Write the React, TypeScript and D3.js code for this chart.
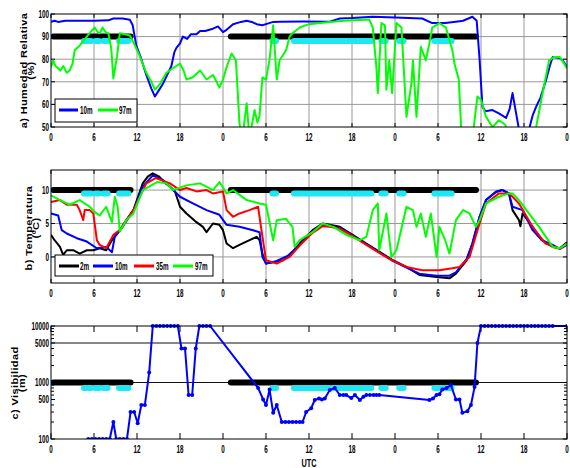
import React from "react";
import * as d3 from "d3";

// hour since start (0..72 UTC, 3 days) -> value
const rh10m: [number, number][] = [
  [0, 96.5], [0.5, 97], [1, 96.5], [2, 97], [4, 97], [6, 97], [8, 97.2], [8.7, 98], [10, 98], [11, 97.5],
  [11.4, 95], [11.9, 86], [12.5, 81], [13.3, 73], [14, 67], [14.5, 63.5], [15, 66], [15.6, 69], [16.2, 73],
  [16.8, 77], [17.2, 83], [17.5, 85], [18, 87], [18.4, 90], [19, 89], [19.5, 91], [20.3, 91], [20.8, 92.5],
  [21.5, 92.5], [22.6, 93.5], [23.3, 94.5], [24, 92], [24.5, 93], [25.4, 95.5], [26.5, 96.5], [27.3, 97],
  [28, 96.5], [28.7, 95.5], [29.5, 95], [30, 95.5], [31, 96.5], [32, 96.6], [35, 96.7], [38.9, 96.6],
  [40.3, 98], [42, 98.2], [44.9, 98.8], [48, 98.5], [51.8, 98], [53.2, 96], [55, 96], [56.5, 96.6], [57.5, 97],
  [58.8, 98.8], [59.4, 97], [59.8, 80], [60.2, 59], [60.6, 57], [61.6, 57.5], [62.5, 56], [63.5, 54], [64, 58],
  [64.4, 65], [64.9, 56], [65.3, 49], [66.7, 49], [67.2, 55], [67.7, 59], [68.3, 63], [69.1, 71], [69.6, 77],
  [70, 81], [71, 80.5], [71.5, 79], [72, 76.5],
];

const rh97m: [number, number][] = [
  [0, 76.5], [0.3, 79.5], [0.6, 77], [1, 76], [1.3, 75], [1.7, 77], [2.2, 74], [2.6, 75], [3, 78], [3.3, 84],
  [4, 86], [5, 90], [5.5, 92], [6.1, 94], [6.5, 92], [6.8, 91.5], [7.2, 94], [7.6, 92], [8, 91.5], [8.4, 85],
  [8.7, 71.5], [9.2, 81], [9.6, 91.5], [10.3, 91], [11, 90.5], [11.5, 87.5], [12.3, 82], [13.3, 74], [14, 70],
  [14.5, 66.5], [15.2, 69], [16.1, 74], [17, 76], [18, 78], [18.5, 75], [18.9, 71], [19.8, 72], [20.8, 75],
  [21.7, 71], [22.6, 73], [23.1, 70], [23.5, 67.5], [24, 71], [24.5, 76.5], [25.2, 82.5], [25.8, 79.5],
  [26.3, 51.5], [26.7, 45], [27.3, 60.5], [27.7, 45], [28.4, 57.5], [28.8, 52], [29.1, 55], [29.5, 72],
  [30, 71], [30.5, 80], [31, 95], [31.5, 71], [31.9, 79.5], [32.4, 82], [32.8, 84], [33.3, 90], [33.7, 91.5],
  [34.7, 94], [36, 95.5], [38.9, 96.5], [41, 97], [44.4, 97.6], [44.9, 94], [45.4, 76.5], [45.6, 65],
  [46.1, 96], [46.6, 95], [46.8, 66.5], [47.2, 79.5], [47.6, 65], [48.2, 96], [48.9, 94], [49.6, 54.5],
  [50.3, 69.5], [50.5, 79.5], [51, 54.5], [51.6, 85.5], [52.3, 79.5], [52.8, 87], [53.2, 94], [54.2, 96],
  [55.1, 94], [56, 84], [56.3, 78], [56.9, 71], [57.3, 45], [58.8, 45], [59.5, 63.5], [60, 62], [60.7, 54.5],
  [61.6, 50], [62.5, 53], [63.4, 51], [63.8, 45], [67.2, 45], [67.7, 50], [68.5, 63.5], [69.5, 79.5],
  [70.2, 81], [71, 81], [72, 76],
];

const t2m: [number, number][] = [
  [0, 3.3], [0.5, 2.5], [1.25, 1.5], [1.7, 0.3], [2.2, 1], [3.1, 1], [4, 0.5], [5, 1], [5.9, 1], [6.8, 1.3],
  [7.7, 1], [8.5, 2.5], [9.6, 4], [10.5, 5.5], [11.5, 7], [12.8, 11], [13.5, 12], [14.2, 12.5], [15.1, 12],
  [16, 11], [16.6, 10.5], [17.3, 9.8], [18, 7.5], [18.9, 6.5], [20.3, 5.2], [21.2, 4.5], [21.7, 3.7],
  [22.6, 5], [23.5, 4.8], [24, 4], [24.5, 2], [25.4, 1.3], [26.3, 1.8], [27.7, 2.5], [28.7, 3], [29.1, 2.5],
  [29.5, 0.5], [30, -1], [31, -0.8], [32.4, -0.5], [33.7, 0.8], [34.7, 2], [36.5, 4], [37.9, 5], [38.9, 4.8],
  [40.3, 4.5], [42.1, 3.3], [44, 2], [45.8, 0.8], [47.7, -0.5], [49.6, -1.5], [51.4, -2.7], [53.8, -3],
  [55.6, -3.2], [56.5, -2.5], [58, -0.5], [58.8, 2], [59.8, 6], [60.7, 8.5], [62.1, 9.7], [63, 10],
  [63.9, 9.5], [64.4, 7], [65.3, 5.5], [65.5, 4.6], [65.8, 6.5], [67.2, 4.5], [68.5, 2.5], [70, 1.5],
  [71, 1.3], [72, 2.2],
];

const t10m: [number, number][] = [
  [0, 6.5], [1, 6.2], [1.5, 4], [2.2, 3.5], [3.6, 2.8], [5, 2.3], [6.4, 1.3], [7.7, 1.5], [8.5, 0.7],
  [8.9, 3], [10, 4.5], [11.5, 7], [12.8, 10.5], [14.2, 12.2], [15.6, 11.5], [16.6, 10.5], [18, 9],
  [19.8, 8], [21.7, 7], [23.5, 6.3], [24.5, 4.8], [26.3, 4.5], [28.2, 4], [29.1, 3.7], [29.5, 0], [30, -1],
  [31.5, -0.6], [33.3, 0.3], [34.7, 1.8], [36.5, 3.8], [37.9, 4.8], [38.9, 4.6], [40.3, 4.3], [42.1, 3.2],
  [44, 1.9], [45.8, 0.7], [47.7, -0.6], [49.6, -1.6], [51.4, -2.5], [53.8, -2.8], [55.6, -2.8],
  [56.5, -2.3], [58, -0.3], [58.8, 2], [59.8, 6], [60.7, 8.5], [62.1, 9.8], [63, 10], [63.9, 9.5],
  [64.4, 7.5], [65.8, 7], [67.2, 4], [68.5, 2.5], [70, 1.8], [71, 1.2], [72, 1.8],
];

const t35m: [number, number][] = [
  [0, 8.2], [1.25, 8.5], [2.2, 7.8], [3.6, 7.8], [4, 7], [4.5, 5.5], [4.7, 7], [5.4, 7], [5.9, 6.5],
  [6.4, 2.5], [6.8, 1.8], [7.7, 1.3], [8.7, 3.3], [9.6, 4], [11.5, 7], [13.3, 11], [14.6, 11.8], [16.6, 11],
  [18, 10], [18.9, 10.3], [20.3, 9.8], [21.7, 10], [22.6, 9.5], [24, 9.8], [24.5, 7], [25.4, 6], [26.3, 6.5],
  [27.7, 7], [28.9, 7.5], [29.3, 4.5], [30, -0.5], [31.5, -1], [33.3, 0], [34.7, 1.7], [36.5, 3.6],
  [37.9, 4.6], [38.9, 4.5], [40.3, 4.2], [42.1, 3.1], [44, 1.8], [45.8, 0.6], [47.7, -0.6], [49.6, -1.5],
  [51.8, -2], [54.2, -2], [56, -1.7], [57, -1.5], [58.4, 0], [59.8, 5], [60.7, 8], [62.5, 9.5], [63.9, 9.5],
  [64.4, 9], [65.3, 8], [67.2, 4.5], [69, 2], [71, 1.2], [72, 2],
];

const t97m: [number, number][] = [
  [0, 9.2], [1.25, 8.5], [2.6, 7.8], [4, 8.5], [5.4, 7.5], [6.1, 6.7], [6.8, 6.2], [7.7, 7.5], [8.5, 5.2],
  [8.9, 9], [9.3, 7.5], [9.6, 3.8], [10.5, 5.5], [11.5, 6.5], [12.8, 10], [14.8, 11.2], [16.1, 11], [17, 10],
  [18.9, 10.7], [20.8, 11], [22.6, 10], [23.5, 11.2], [24.5, 9.5], [25.4, 10], [27.3, 8.5], [29.1, 8],
  [30, 7.8], [31, 2.5], [31.5, 5.5], [32.8, 5.7], [33.3, 5], [33.7, 4.5], [34, 1.5], [34.7, 2.5], [36.5, 3.7],
  [37.9, 5], [39.4, 4.5], [41.2, 3.3], [43.1, 2.5], [44, 3], [44.9, 7], [45.6, 8], [45.8, 1], [46.8, 6.5],
  [47.5, 0], [48.2, 1], [49.6, 7.5], [50.5, 7], [51, 4.5], [51.6, 6.5], [52.3, 3], [53, 6.5], [53.8, 0],
  [54.2, 4.5], [55, 2.5], [55.6, 0.5], [56.5, 5.5], [57.5, 7], [58.4, 6.5], [59.3, 4.5], [59.8, 5.5],
  [60.7, 8], [62.5, 9], [63.9, 9.5], [64.4, 9.5], [65.3, 8.5], [68.1, 4.5], [70, 1.5], [71, 1.3], [72, 2],
];

// visibility (m); no record between 22.2 h and 28.9 h, and between 45.8 h and 52.8 h
const vis: [number, number][] = [
  [5.2, 100], [5.7, 100], [6.2, 100], [6.7, 100], [7.2, 100], [7.7, 100], [8.2, 100], [8.7, 200], [9.1, 100],
  [9.6, 100], [10.1, 100], [10.6, 100], [11.1, 300], [11.6, 300], [12.1, 190], [12.6, 400], [13.1, 400],
  [13.7, 1500], [14.2, 10000], [14.7, 10000], [15.2, 10000], [15.7, 10000], [16.2, 10000], [16.7, 10000],
  [17.2, 10000], [17.7, 10000], [18.2, 4000], [18.7, 4000], [19.2, 600], [19.7, 600], [20.2, 4000],
  [20.7, 10000], [21.2, 10000], [21.7, 10000], [22.2, 10000], [28.9, 800], [29.6, 500], [30, 400],
  [30.5, 750], [31, 290], [31.5, 400], [32.2, 200], [32.7, 200], [33.2, 200], [33.7, 200], [34.2, 200],
  [34.7, 200], [35.1, 200], [35.6, 300], [36.3, 350], [36.8, 490], [37.4, 520], [37.8, 500], [38.2, 520],
  [38.9, 740], [39.6, 800], [40.3, 600], [40.8, 600], [41.2, 600], [41.9, 530], [42.4, 600], [43.1, 490],
  [43.6, 560], [44, 600], [44.5, 600], [45, 600], [45.4, 600], [45.8, 600], [52.8, 490], [53.3, 520],
  [53.8, 600], [54.2, 620], [54.6, 750], [55.2, 800], [55.8, 900], [56.5, 500], [57, 500], [57.4, 290],
  [58.1, 310], [58.6, 400], [59.1, 830], [59.5, 5000], [60, 10000], [60.5, 10000], [61, 10000],
  [61.5, 10000], [62, 10000], [62.5, 10000], [63, 10000], [63.5, 10000], [64, 10000], [64.5, 10000],
  [65, 10000], [65.5, 10000], [66, 10000], [66.5, 10000], [67, 10000], [67.5, 10000], [68, 10000],
  [68.5, 10000], [69, 10000], [69.5, 10000], [70, 10000], [72, 10000],
];

// fog periods (hours): black = fog at site, cyan = second fog flag
const fogBlack: [number, number][] = [[0.35, 11.1], [25.1, 59.3]];
const fogCyan: [number, number][] = [
  [4.6, 5.6], [6.2, 6.7], [7.3, 7.9], [9.5, 10.8], [30.9, 31.4], [33.9, 44.7], [46.1, 46.7], [48.6, 49.2],
  [53.5, 55.9],
];

const xTicks = [0, 6, 12, 18, 24, 30, 36, 42, 48, 54, 60, 66, 72];
const xTickLabels = ["0", "6", "12", "18", "0", "6", "12", "18", "0", "6", "12", "18", "0"];
const rhTicks = [50, 60, 70, 80, 90, 100];
const tTicks = [0, 5, 10];
const visTicks = [100, 500, 1000, 5000, 10000];
const visMinor = [200, 300, 400, 600, 700, 800, 900, 2000, 3000, 4000, 6000, 7000, 8000, 9000];

const FONT = "'Liberation Sans', Arial, sans-serif";
const X0 = 51, X1 = 567;
const A = { top: 14, bottom: 127 };
const B = { top: 170, bottom: 283 };
const C = { top: 326, bottom: 439 };

const x = d3.scaleLinear().domain([0, 72]).range([X0, X1]);
const yRH = d3.scaleLinear().domain([50, 100]).range([A.bottom, A.top]);
const yT = d3.scaleLinear().domain([-3.9, 13]).range([B.bottom, B.top]);
const yV = d3.scaleLog().domain([100, 10000]).range([C.bottom, C.top]);

// the original figure is squeezed sideways, so text is narrowed with scaleX
const Txt = ({ x, y, anchor = "middle", sx = 0.6, size = 10.5, children }: any) => (
  <text transform={`translate(${x},${y}) scale(${sx},1)`} textAnchor={anchor}
    fontSize={size} fontWeight="bold" fontFamily={FONT}>{children}</text>
);

const YLabel = ({ x, y, children }: any) => (
  <text transform={`translate(${x},${y}) rotate(-90) scale(1,0.9)`} textAnchor="middle"
    fontSize={11} fontWeight="bold" fontFamily={FONT} letterSpacing={0.4}>{children}</text>
);

function Fog({ ys, black, cyan }: any) {
  return (
    <g strokeLinecap="round" strokeWidth={6}>
      {fogBlack.map((d, i) => (
        <line key={"b" + i} x1={x(d[0])} x2={x(d[1])} y1={ys(black)} y2={ys(black)} stroke="#000" />
      ))}
      {fogCyan.map((d, i) => (
        <line key={"c" + i} x1={x(d[0])} x2={x(d[1])} y1={ys(cyan)} y2={ys(cyan)} stroke="#1ee6f2" />
      ))}
    </g>
  );
}

function Axes({ ys, top, bottom, ticks, labels, grid, labelY, tickLen = 4 }: any) {
  return (
    <g>
      {grid && xTicks.slice(1, -1).map((h) => (
        <line key={"gx" + h} x1={x(h)} x2={x(h)} y1={top} y2={bottom} stroke="#999" strokeWidth={1} />
      ))}
      {xTicks.map((h) => (
        <g key={"tx" + h} stroke="#000">
          <line x1={x(h)} x2={x(h)} y1={top} y2={top + tickLen} />
          <line x1={x(h)} x2={x(h)} y1={bottom} y2={bottom - tickLen} />
        </g>
      ))}
      {ticks.map((v: number) => (
        <g key={"ty" + v} stroke="#000">
          <line x1={X0} x2={X0 + 4} y1={ys(v)} y2={ys(v)} />
          <line x1={X1} x2={X1 - 4} y1={ys(v)} y2={ys(v)} />
        </g>
      ))}
      {ticks.map((v: number, i: number) => (
        <Txt key={"ly" + v} x={49} y={ys(v) + 3.8} anchor="end">{labels[i]}</Txt>
      ))}
      {xTicks.map((h, i) => (
        <Txt key={"lx" + h} x={x(h)} y={labelY}>{xTickLabels[i]}</Txt>
      ))}
    </g>
  );
}

export default function App() {
  const lineRH = d3.line<[number, number]>().x((d) => x(d[0])).y((d) => yRH(d[1]));
  const lineT = d3.line<[number, number]>().x((d) => x(d[0])).y((d) => yT(d[1]));
  const lineV = d3.line<[number, number]>().x((d) => x(d[0])).y((d) => yV(d[1]));
  return (
    <svg width={570} height={468} style={{ position: "absolute", left: 0, top: 0, background: "#fff" }}>
      <defs>
        <clipPath id="ca"><rect x={X0} y={A.top} width={X1 - X0} height={A.bottom - A.top} /></clipPath>
        <clipPath id="cb"><rect x={X0} y={B.top} width={X1 - X0} height={B.bottom - B.top} /></clipPath>
        <clipPath id="cc"><rect x={X0} y={C.top - 3} width={X1 - X0} height={C.bottom - C.top + 3} /></clipPath>
      </defs>

      {/* a) relative humidity */}
      {rhTicks.slice(1, -1).map((v) => (
        <line key={"ga" + v} x1={X0} x2={X1} y1={yRH(v)} y2={yRH(v)} stroke="#999" />
      ))}
      <Axes ys={yRH} top={A.top} bottom={A.bottom} ticks={rhTicks} labels={rhTicks.map(String)} grid labelY={141} />
      <g clipPath="url(#ca)">
        <Fog ys={yRH} black={90} cyan={88} />
        <path d={lineRH(rh10m) || ""} fill="none" stroke="#0000ff" strokeWidth={2} strokeLinejoin="round" />
        <path d={lineRH(rh97m) || ""} fill="none" stroke="#00ff00" strokeWidth={2} strokeLinejoin="round" />
      </g>
      <rect x={X0} y={A.top} width={X1 - X0} height={A.bottom - A.top} fill="none" stroke="#000" />
      <g>
        <rect x={55} y={99} width={82} height={23} fill="#fff" stroke="#000" />
        <line x1={59} x2={78} y1={110} y2={110} stroke="#0000ff" strokeWidth={3} />
        <Txt x={80} y={114} anchor="start">10m</Txt>
        <line x1={98} x2={118} y1={110} y2={110} stroke="#00ff00" strokeWidth={3} />
        <Txt x={119} y={114} anchor="start">97m</Txt>
      </g>
      <YLabel x={27} y={70.5}>a) Humedad Relativa</YLabel>
      <YLabel x={34} y={70.5}>(%)</YLabel>

      {/* b) temperature */}
      {tTicks.map((v) => (
        <line key={"gb" + v} x1={X0} x2={X1} y1={yT(v)} y2={yT(v)} stroke="#999" />
      ))}
      <Axes ys={yT} top={B.top} bottom={B.bottom} ticks={tTicks} labels={tTicks.map(String)} grid labelY={297} />
      <g clipPath="url(#cb)">
        <Fog ys={yT} black={10} cyan={9.5} />
        <path d={lineT(t2m) || ""} fill="none" stroke="#000" strokeWidth={2} strokeLinejoin="round" />
        <path d={lineT(t10m) || ""} fill="none" stroke="#0000ff" strokeWidth={2} strokeLinejoin="round" />
        <path d={lineT(t35m) || ""} fill="none" stroke="#ff0000" strokeWidth={2} strokeLinejoin="round" />
        <path d={lineT(t97m) || ""} fill="none" stroke="#00ff00" strokeWidth={2} strokeLinejoin="round" />
      </g>
      <rect x={X0} y={B.top} width={X1 - X0} height={B.bottom - B.top} fill="none" stroke="#000" />
      <g>
        <rect x={55} y={255} width={158} height={21} fill="#fff" stroke="#000" />
        <line x1={59} x2={79} y1={266} y2={266} stroke="#000" strokeWidth={3} />
        <Txt x={80} y={270} anchor="start">2m</Txt>
        <line x1={93} x2={113} y1={266} y2={266} stroke="#0000ff" strokeWidth={3} />
        <Txt x={115} y={270} anchor="start">10m</Txt>
        <line x1={134} x2={154} y1={266} y2={266} stroke="#ff0000" strokeWidth={3} />
        <Txt x={156} y={270} anchor="start">35m</Txt>
        <line x1={173} x2={193} y1={266} y2={266} stroke="#00ff00" strokeWidth={3} />
        <Txt x={195} y={270} anchor="start">97m</Txt>
      </g>
      <YLabel x={31.5} y={228}>b) Temperatura</YLabel>
      <YLabel x={39} y={228}>(ºC)</YLabel>

      {/* c) visibility */}
      {[1000, 5000].map((v) => (
        <line key={"gc" + v} x1={X0} x2={X1} y1={yV(v)} y2={yV(v)} stroke="#111" strokeWidth={1.2} />
      ))}
      {visMinor.map((v) => (
        <g key={"mv" + v} stroke="#000">
          <line x1={X0} x2={X0 + 3} y1={yV(v)} y2={yV(v)} />
          <line x1={X1} x2={X1 - 3} y1={yV(v)} y2={yV(v)} />
        </g>
      ))}
      <Axes ys={yV} top={C.top} bottom={C.bottom} ticks={visTicks} labels={visTicks.map(String)} labelY={453} tickLen={6} />
      <g clipPath="url(#cc)">
        <Fog ys={yV} black={1000} cyan={800} />
        <path d={lineV(vis) || ""} fill="none" stroke="#0000ff" strokeWidth={2} strokeLinejoin="round" />
        {vis.map((d, i) => (
          <circle key={i} cx={x(d[0])} cy={yV(d[1])} r={2} fill="#0000ff" />
        ))}
      </g>
      <rect x={X0} y={C.top} width={X1 - X0} height={C.bottom - C.top} fill="none" stroke="#000" />
      <YLabel x={18} y={383}>c) Visibilidad</YLabel>
      <YLabel x={25} y={383}>(m)</YLabel>
      <Txt x={309} y={467} sx={0.7}>UTC</Txt>
    </svg>
  );
}
